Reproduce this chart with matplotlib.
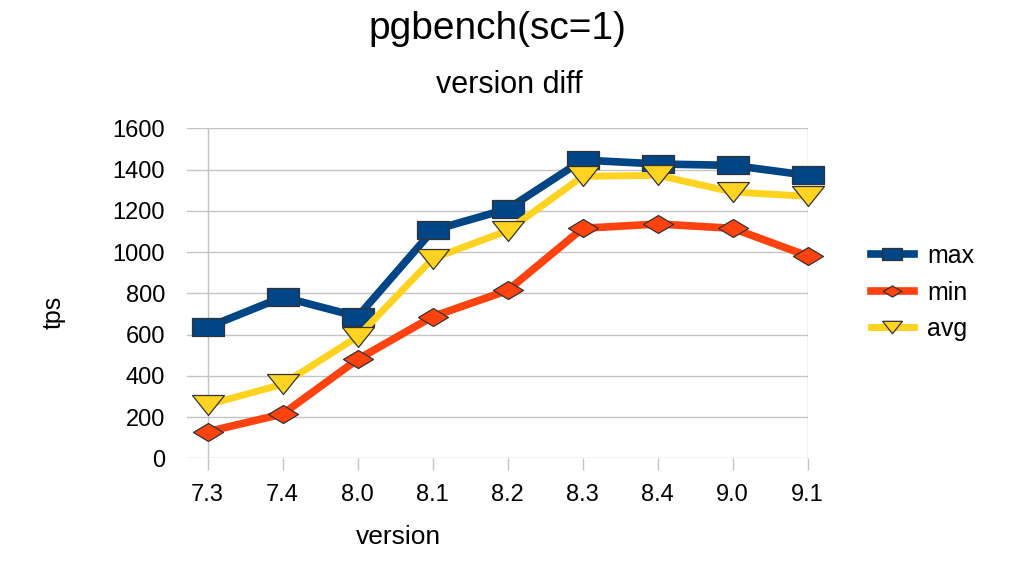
import matplotlib
matplotlib.use('Agg')
import matplotlib.pyplot as plt

versions = ['7.3', '7.4', '8.0', '8.1', '8.2', '8.3', '8.4', '9.0', '9.1']
tps_max = [635, 782, 687, 1105, 1209, 1446, 1427, 1420, 1372]
tps_min = [129, 215, 480, 687, 814, 1115, 1136, 1115, 981]
tps_avg = [260, 359, 590, 968, 1104, 1367, 1372, 1291, 1270]
y_ticks = [0, 200, 400, 600, 800, 1000, 1200, 1400, 1600]

# wide (stretched) marker shapes like the original office chart
SQUARE = [(-1, -0.5625), (1, -0.5625), (1, 0.5625), (-1, 0.5625), (-1, -0.5625)]
DIAMOND = [(-1, 0), (0, 0.6), (1, 0), (0, -0.6), (-1, 0)]
TRIANGLE = [(-1, 0.625), (1, 0.625), (0, -0.625), (-1, 0.625)]

plt.rcParams['font.family'] = ['Liberation Sans', 'DejaVu Sans']

fig = plt.figure(figsize=(10.24, 5.76), dpi=100)
ax = fig.add_axes([0.1823, 0.2043, 0.6065, 0.573])

x = list(range(len(versions)))
edge = '#333333'
ax.plot(x, tps_max, color='#004586', lw=5.5, marker=SQUARE, ms=23,
        mec=edge, mew=0.9, label='max', clip_on=False)
ax.plot(x, tps_min, color='#ff420e', lw=5.5, marker=DIAMOND, ms=21.6,
        mec=edge, mew=0.9, label='min', clip_on=False)
ax.plot(x, tps_avg, color='#ffd320', lw=5.0, marker=TRIANGLE, ms=23,
        mec=edge, mew=0.9, label='avg', clip_on=False)

ax.set_xlim(-0.28, len(versions) - 1)
ax.set_ylim(0, 1600)
ax.set_yticks(y_ticks)
ax.set_yticklabels([str(v) for v in y_ticks])
ax.set_xticks(x)
ax.set_xticklabels(versions)

for s in ax.spines.values():
    s.set_visible(False)
grid_c = '#c4c4c4'
ax.grid(True, axis='y', color=grid_c, lw=1)
ax.set_axisbelow(True)
ax.axvline(0, color=grid_c, lw=1, zorder=0.5)
ax.axvline(len(versions) - 1, color=grid_c, lw=1, zorder=0.5)

ax.tick_params(axis='y', length=0, pad=15.5, labelsize=17)
ax.tick_params(axis='x', length=8.6, width=1, color=grid_c,
               pad=10, labelsize=17)

fig.text(0.486, 0.95, 'pgbench(sc=1)', ha='center', va='center', fontsize=28)
fig.text(0.497, 0.852, 'version diff', ha='center', va='center', fontsize=22)
fig.text(0.389, 0.068, 'version', ha='center', va='center', fontsize=19)
fig.text(0.052, 0.457, 'tps', ha='center', va='center', rotation=90, fontsize=18)

fig.legend(loc='center left', bbox_to_anchor=(0.838, 0.492), frameon=False,
           fontsize=18, handlelength=1.75, markerscale=0.62,
           labelspacing=0.5, handletextpad=0.5, borderpad=0)

fig.savefig('out.png', dpi=100)
